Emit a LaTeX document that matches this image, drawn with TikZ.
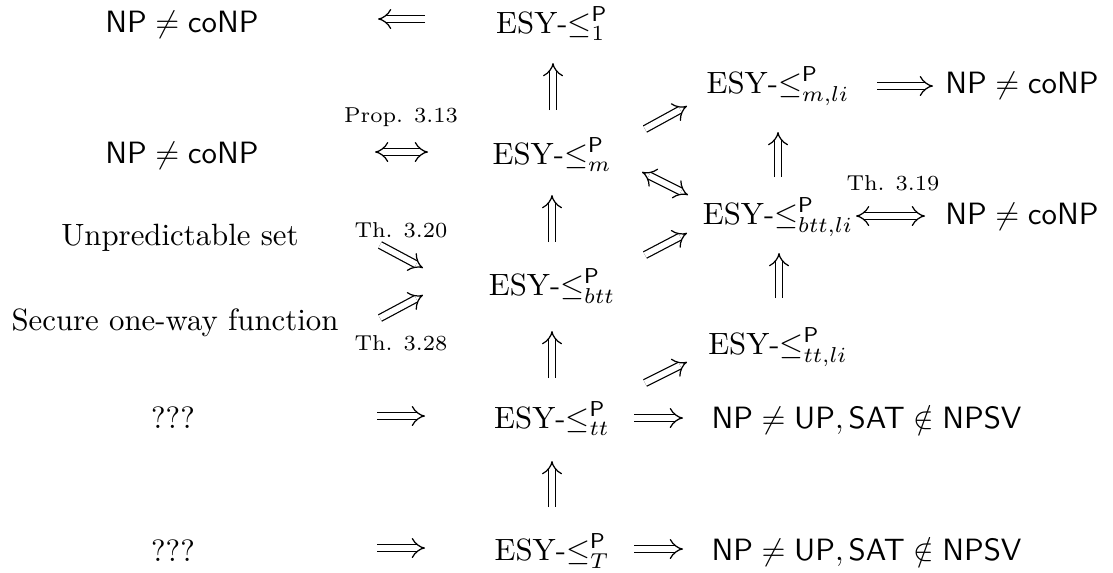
\documentclass[tikz,border=0pt]{standalone}
\usetikzlibrary{arrows.meta}
\begin{document}
\begin{tikzpicture}[x=0.3247pt,y=-0.3247pt,
  lbl/.style={inner sep=0pt,anchor=base},
  small/.style={inner sep=0pt,anchor=base,font=\scriptsize},
  imp/.style={double,double distance=1.9pt,line width=0.4pt,-{Implies}},
  iff/.style={double,double distance=1.9pt,line width=0.4pt,{Implies}-{Implies}}]
\useasboundingbox (0,0) rectangle (1113,572);
% left column
\node[lbl] (np1) at (182,32) {$\mathsf{NP}\neq\mathsf{coNP}$};
\node[lbl] (np2) at (182,163) {$\mathsf{NP}\neq\mathsf{coNP}$};
\node[lbl] (unpred) at (180,245) {Unpredictable set};
\node[lbl] (secure) at (175,330) {Secure one-way function};
\node[lbl] (q1) at (173,428) {???};
\node[lbl] (q2) at (173,561) {???};
% centre column
\node[lbl] (e1) at (552,33) {ESY-$\leq^{\mathsf{P}}_{1}$};
\node[lbl] (em) at (552,164) {ESY-$\leq^{\mathsf{P}}_{m}$};
\node[lbl] (ebtt) at (552,295) {ESY-$\leq^{\mathsf{P}}_{btt}$};
\node[lbl] (ett) at (552,428) {ESY-$\leq^{\mathsf{P}}_{tt}$};
\node[lbl] (eT) at (552,560) {ESY-$\leq^{\mathsf{P}}_{T}$};
% right column
\node[lbl] (emli) at (778,93) {ESY-$\leq^{\mathsf{P}}_{m,li}$};
\node[lbl] (ebttli) at (778,224) {ESY-$\leq^{\mathsf{P}}_{btt,li}$};
\node[lbl] (ettli) at (778,354) {ESY-$\leq^{\mathsf{P}}_{tt,li}$};
\node[lbl] (np3) at (1022,93) {$\mathsf{NP}\neq\mathsf{coNP}$};
\node[lbl] (np4) at (1022,224) {$\mathsf{NP}\neq\mathsf{coNP}$};
\node[lbl,anchor=base west] (up1) at (711,428) {$\mathsf{NP}\neq\mathsf{UP},\mathsf{SAT}\notin\mathsf{NPSV}$};
\node[lbl,anchor=base west] (up2) at (711,560) {$\mathsf{NP}\neq\mathsf{UP},\mathsf{SAT}\notin\mathsf{NPSV}$};
% labels
\node[small] (prop) at (401,122) {Prop. 3.13};
\node[small] (th319) at (893,190) {Th. 3.19};
\node[small] (th320) at (401,237) {Th. 3.20};
\node[small] (th328) at (401,350) {Th. 3.28};
% arrow end points
\coordinate (a1s) at (425,19);  \coordinate (a1e) at (378,19);
\coordinate (a2s) at (375,152); \coordinate (a2e) at (428,152);
\coordinate (v1s) at (553,110); \coordinate (v1e) at (553,63);
\coordinate (d1s) at (645,129); \coordinate (d1e) at (687,106);
\coordinate (d2s) at (642,172); \coordinate (d2e) at (688,195);
\coordinate (v2s) at (778,177); \coordinate (v2e) at (778,132);
\coordinate (h1s) at (877,86);  \coordinate (h1e) at (933,86);
\coordinate (h2s) at (856,216); \coordinate (h2e) at (925,216);
\coordinate (d3s) at (645,255); \coordinate (d3e) at (687,233);
\coordinate (v3s) at (779,298); \coordinate (v3e) at (779,253);
\coordinate (v4s) at (552,242); \coordinate (v4e) at (552,195);
\coordinate (d4s) at (380,245); \coordinate (d4e) at (423,268);
\coordinate (d5s) at (380,318); \coordinate (d5e) at (423,295);
\coordinate (v5s) at (552,378); \coordinate (v5e) at (552,331);
\coordinate (d6s) at (645,383); \coordinate (d6e) at (687,362);
\coordinate (h3s) at (377,416); \coordinate (h3e) at (425,416);
\coordinate (h4s) at (634,418); \coordinate (h4e) at (683,418);
\coordinate (v6s) at (552,507); \coordinate (v6e) at (552,461);
\coordinate (h5s) at (377,548); \coordinate (h5e) at (425,548);
\coordinate (h6s) at (634,549); \coordinate (h6e) at (683,549);
% arrows
\draw[imp] (a1s) -- (a1e);
\draw[iff] (a2s) -- (a2e);
\draw[imp] (v1s) -- (v1e);
\draw[imp] (d1s) -- (d1e);
\draw[iff] (d2s) -- (d2e);
\draw[imp] (v2s) -- (v2e);
\draw[imp] (h1s) -- (h1e);
\draw[iff] (h2s) -- (h2e);
\draw[imp] (d3s) -- (d3e);
\draw[imp] (v3s) -- (v3e);
\draw[imp] (v4s) -- (v4e);
\draw[imp] (d4s) -- (d4e);
\draw[imp] (d5s) -- (d5e);
\draw[imp] (v5s) -- (v5e);
\draw[imp] (d6s) -- (d6e);
\draw[imp] (h3s) -- (h3e);
\draw[imp] (h4s) -- (h4e);
\draw[imp] (v6s) -- (v6e);
\draw[imp] (h5s) -- (h5e);
\draw[imp] (h6s) -- (h6e);
\end{tikzpicture}
\end{document}
